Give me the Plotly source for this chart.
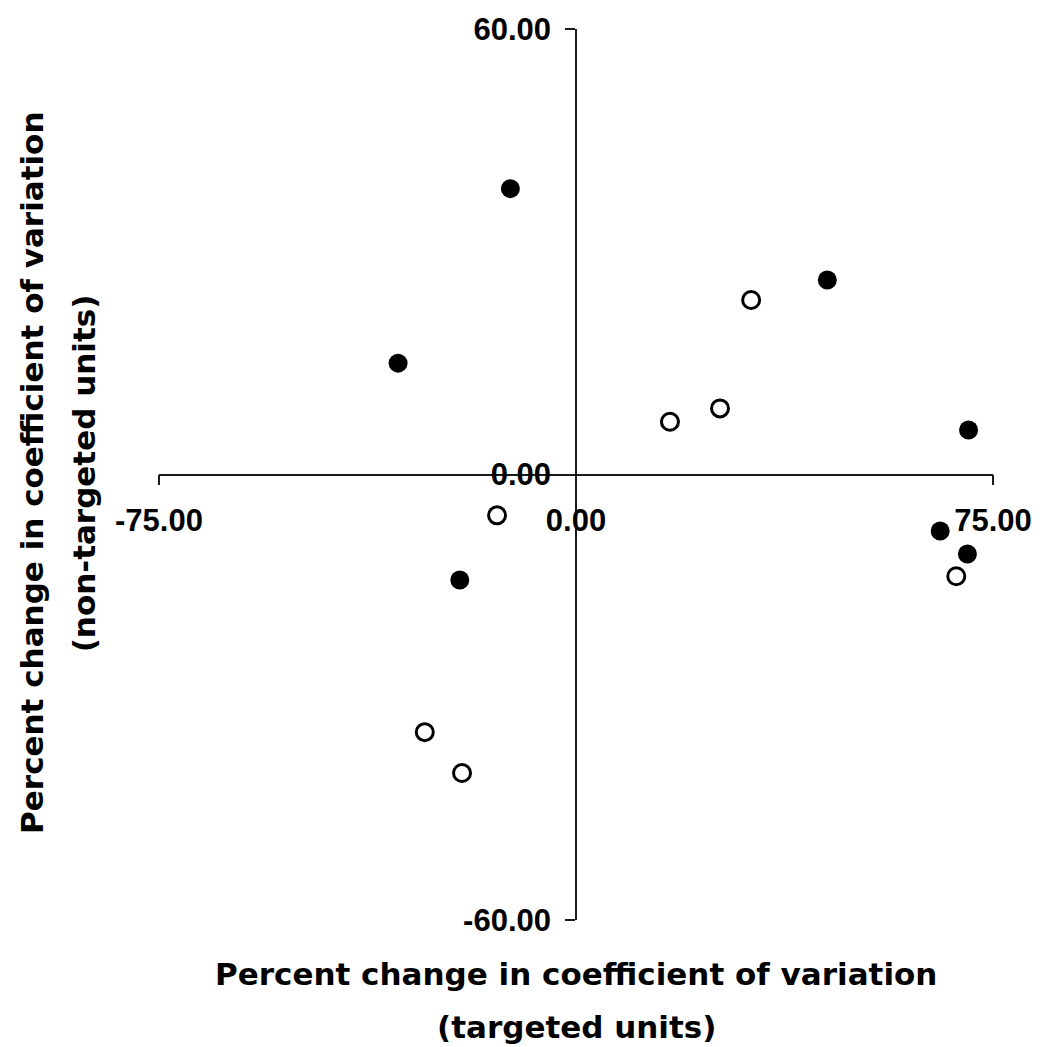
import plotly.graph_objects as go

# Percent change in coefficient of variation: targeted (x) vs non-targeted (y) units
filled_x = [-11.8, -32.0, 45.2, 70.6, -20.9, 65.5, 70.4]
filled_y = [38.5, 15.0, 26.2, 6.0, -14.2, -7.6, -10.7]

open_x = [-14.2, -27.2, -20.5, 31.5, 25.9, 16.9, 68.4]
open_y = [-5.5, -34.7, -40.2, 23.5, 8.9, 7.1, -13.7]

x_ticks = [-75, 0, 75]
x_tick_text = ["-75.00", "0.00", "75.00"]
y_ticks = [-60, 0, 60]
y_tick_text = ["-60.00", "0.00", "60.00"]

x_title = ["Percent change in coefficient of variation", "(targeted units)"]
y_title = ["Percent change in coefficient of variation", "(non-targeted units)"]

TICK_FONT = "Arial, Liberation Sans, sans-serif"
TITLE_FONT = "DejaVu Sans, Arial, sans-serif"

fig = go.Figure()
fig.add_trace(go.Scatter(
    x=filled_x, y=filled_y, mode="markers",
    marker=dict(symbol="circle", size=19, color="black", line=dict(width=0)),
    showlegend=False, hoverinfo="x+y",
))
fig.add_trace(go.Scatter(
    x=open_x, y=open_y, mode="markers",
    marker=dict(symbol="circle", size=17, color="white",
                line=dict(width=3, color="black")),
    showlegend=False, hoverinfo="x+y",
))

axis_common = dict(
    showgrid=False, zeroline=False, showline=True,
    linecolor="#1a1a1a", linewidth=1.6,
    ticks="outside", ticklen=10, tickwidth=1.6, tickcolor="#1a1a1a",
    tickfont=dict(family=TICK_FONT, size=31, color="black", weight="bold"),
)

title_font = dict(family=TITLE_FONT, size=31, color="black", weight="bold")

annotations = [
    dict(text=x_title[0], xref="paper", yref="paper", x=0.5, y=-0.0603,
         xanchor="center", yanchor="middle", showarrow=False, font=title_font),
    dict(text=x_title[1], xref="paper", yref="paper", x=0.5, y=-0.1196,
         xanchor="center", yanchor="middle", showarrow=False, font=title_font),
    dict(text=y_title[0], xref="paper", yref="paper", x=-0.1524, y=0.5017,
         textangle=-90, xanchor="center", yanchor="middle", showarrow=False,
         font=title_font),
    dict(text=y_title[1], xref="paper", yref="paper", x=-0.0895, y=0.5017,
         textangle=-90, xanchor="center", yanchor="middle", showarrow=False,
         font=title_font),
]

fig.update_layout(
    width=1044, height=1047,
    margin=dict(l=159, r=47, t=25, b=127, pad=0),
    paper_bgcolor="white", plot_bgcolor="white",
    xaxis=dict(
        range=[-75, 75], tickvals=x_ticks, ticktext=x_tick_text,
        anchor="free", position=0.5, side="bottom",
        ticklabelstandoff=8,
        **axis_common,
    ),
    yaxis=dict(
        range=[-60, 60], tickvals=y_ticks, ticktext=y_tick_text,
        anchor="free", position=0.5, side="left",
        ticklabelstandoff=8,
        **axis_common,
    ),
    annotations=annotations,
)

fig.write_html("out.html")
